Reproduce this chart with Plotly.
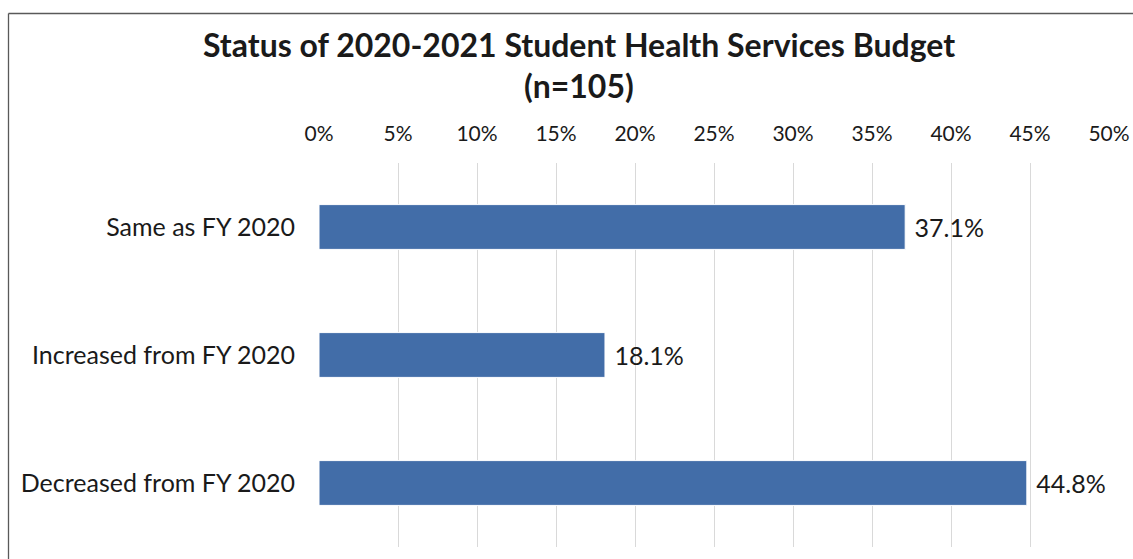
import plotly.graph_objects as go

# Budget status categories (top to bottom) and share of respondents (%)
categories = ["Same as FY 2020", "Increased from FY 2020", "Decreased from FY 2020"]
shares = [37.1, 18.1, 44.8]
tick_values = [0, 5, 10, 15, 20, 25, 30, 35, 40, 45, 50]
tick_labels = [f"{v}%" for v in tick_values]

FONT = "Lato, 'Open Sans', sans-serif"
INK = "#1a1a1a"

W, H = 1133, 559
ML, MR, MT, MB = 319, 24, 163, 12
PW, PH = W - ML - MR, H - MT - MB


def px_to_paper_x(px):
    return (px - ML) / PW


def px_to_paper_y(py):
    return (H - MB - py) / PH


fig = go.Figure(
    go.Bar(
        x=shares,
        y=categories,
        orientation="h",
        width=0.35,
        marker=dict(color="#426DA8", line=dict(color="white", width=1)),
        texttemplate=" %{x:.1f}%",
        textposition="outside",
        textfont=dict(family=FONT, size=25, color=INK),
        cliponaxis=False,
        hoverinfo="skip",
    )
)

fig.update_layout(
    width=W,
    height=H,
    margin=dict(l=ML, r=MR, t=MT, b=MB, autoexpand=False),
    paper_bgcolor="white",
    plot_bgcolor="white",
    showlegend=False,
    font=dict(family=FONT, color=INK),
    uniformtext=dict(minsize=25, mode="show"),
    xaxis=dict(
        side="top",
        range=[0, 50],
        tickvals=tick_values,
        ticktext=tick_labels,
        showgrid=True,
        gridcolor="#d9d9d9",
        gridwidth=1,
        zeroline=False,
        showline=False,
        ticks="outside",
        ticklen=13,
        tickcolor="rgba(0,0,0,0)",
        tickfont=dict(family=FONT, size=21, color=INK),
        automargin=False,
        fixedrange=True,
    ),
    yaxis=dict(
        categoryorder="array",
        categoryarray=categories[::-1],
        showgrid=False,
        zeroline=False,
        showline=False,
        ticks="outside",
        ticklen=18,
        tickcolor="rgba(0,0,0,0)",
        tickfont=dict(family=FONT, size=25, color=INK),
        automargin=False,
        fixedrange=True,
    ),
    annotations=[
        dict(
            text="<b>Status of 2020-2021 Student Health Services Budget</b>",
            xref="paper", yref="paper",
            x=px_to_paper_x(578.5), y=px_to_paper_y(45),
            xanchor="center", yanchor="middle",
            showarrow=False,
            font=dict(family=FONT, size=32, color=INK),
        ),
        dict(
            text="<b>(n=105)</b>",
            xref="paper", yref="paper",
            x=px_to_paper_x(578.5), y=px_to_paper_y(85),
            xanchor="center", yanchor="middle",
            showarrow=False,
            font=dict(family=FONT, size=32, color=INK),
        ),
    ],
    shapes=[
        # chart frame (left and top edges)
        dict(type="line", xref="paper", yref="paper",
             x0=px_to_paper_x(8.5), x1=px_to_paper_x(8.5),
             y0=px_to_paper_y(13.5), y1=px_to_paper_y(575),
             line=dict(color="#595959", width=1.3)),
        dict(type="line", xref="paper", yref="paper",
             x0=px_to_paper_x(8.5), x1=px_to_paper_x(1150),
             y0=px_to_paper_y(13.5), y1=px_to_paper_y(13.5),
             line=dict(color="#595959", width=1.3)),
    ],
)

fig.write_html("out.html", config={"displayModeBar": False})
